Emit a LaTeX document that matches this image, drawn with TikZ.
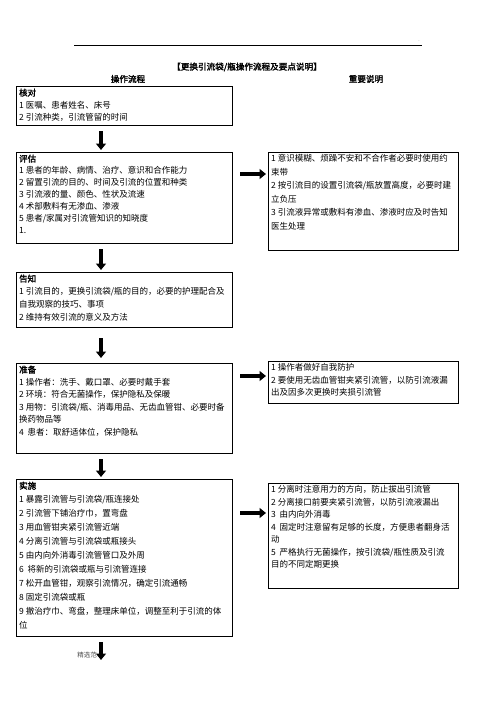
\documentclass[tikz,border=0pt]{standalone}
\usepackage{fontspec}
\setmainfont{Noto Sans CJK SC}[AutoFakeBold=2]
\usetikzlibrary{arrows.meta}

\tikzset{
  kuang/.style={draw, line width=1pt, anchor=north west, inner sep=0pt},
  wenzi/.style={anchor=north west, align=left, inner xsep=3pt, inner ysep=2.5pt,
    font=\fontsize{8.5}{#1}\selectfont},
  wenzi/.default=13,
  jiantou/.style={line width=3.8pt, -{Triangle[width=10pt,length=6.5pt]},
    shorten <=5pt, shorten >=2pt},
}

\begin{document}
\begin{tikzpicture}[x=1pt, y=-1pt]
    \useasboundingbox (0,0) rectangle (496,702);

    % 页眉
    \draw[line width=0.6pt] (74,45) -- (422,45);
    \node[font=\fontsize{5}{5}\selectfont, text=gray] (dian) at (419,41) {.};

    % 标题
    \node[font=\bfseries\fontsize{8.6}{10}\selectfont] (biaoti) at (247,67) {【更换引流袋/瓶操作流程及要点说明】};
    \node[font=\bfseries\fontsize{8.6}{10}\selectfont] (liucheng) at (128,79) {操作流程};
    \node[font=\bfseries\fontsize{8.6}{10}\selectfont] (shuoming) at (366,79) {重要说明};

    % 左列方框
    \node[kuang, minimum width=216, minimum height=39] (hedui) at (16,86) {};
    \node[wenzi=12.5] (hedui-t) at (hedui.north west) {\textbf{核对}\\
        1 医嘱、患者姓名、床号\\
        2 引流种类，引流管留的时间};

    \node[kuang, minimum width=216, minimum height=91] (pinggu) at (16,152) {};
    \node[wenzi=12] (pinggu-t) at (pinggu.north west) {\textbf{评估}\\
        1 患者的年龄、病情、治疗、意识和合作能力\\
        2 留置引流的目的、时间及引流的位置和种类\\
        3 引流液的量、颜色、性状及流速\\
        4 术部敷料有无渗血、渗液\\
        5 患者/家属对引流管知识的知晓度\\
        1.};

    \node[kuang, minimum width=216, minimum height=55] (gaozhi) at (16,272) {};
    \node[wenzi=13] (gaozhi-t) at (gaozhi.north west) {\textbf{告知}\\
        1 引流目的，更换引流袋/瓶的目的，必要的护理配合及\\
        自我观察的技巧、事项\\
        2 维持有效引流的意义及方法};

    \node[kuang, minimum width=216, minimum height=90] (zhunbei) at (16,363) {};
    \node[wenzi=12.5] (zhunbei-t) at (zhunbei.north west) {\textbf{准备}\\
        1 操作者：洗手、戴口罩、必要时戴手套\\
        2 环境：符合无菌操作，保护隐私及保暖\\
        3 用物：引流袋/瓶、消毒用品、无齿血管钳、必要时备\\
        换药物品等\\
        4\ \ 患者：取舒适体位，保护隐私};

    \node[kuang, minimum width=216, minimum height=157] (shishi) at (16,479) {};
    \node[wenzi=14] (shishi-t) at (shishi.north west) {\textbf{实施}\\
        1 暴露引流管与引流袋/瓶连接处\\
        2 引流管下铺治疗巾，置弯盘\\
        3 用血管钳夹紧引流管近端\\
        4 分离引流管与引流袋或瓶接头\\
        5 由内向外消毒引流管管口及外周\\
        6\ \ 将新的引流袋或瓶与引流管连接\\
        7 松开血管钳，观察引流情况，确定引流通畅\\
        8 固定引流袋或瓶\\
        9 撤治疗巾、弯盘，整理床单位，调整至利于引流的体\\
        位};

    % 右列方框
    \node[kuang, minimum width=190, minimum height=98] (shuoming1) at (268,152) {};
    \node[wenzi=13.5] (shuoming1-t) at (shuoming1.north west) {1 意识模糊、烦躁不安和不合作者必要时使用约\\
        束带\\
        2 按引流目的设置引流袋/瓶放置高度，必要时建\\
        立负压\\
        3 引流液异常或敷料有渗血、渗液时应及时告知\\
        医生处理};

    \node[kuang, minimum width=190, minimum height=42] (shuoming2) at (268,361) {};
    \node[wenzi=12.5] (shuoming2-t) at (shuoming2.north west) {1 操作者做好自我防护\\
        2 要使用无齿血管钳夹紧引流管，以防引流液漏\\
        出及因多次更换时夹损引流管};

    \node[kuang, minimum width=190, minimum height=105] (shuoming3) at (268,483) {};
    \node[wenzi=12.5] (shuoming3-t) at (shuoming3.north west) {1 分离时注意用力的方向，防止拔出引流管\\
        2 分离接口前要夹紧引流管，以防引流液漏出\\
        3\ \ 由内向外消毒\\
        4\ \ 固定时注意留有足够的长度，方便患者翻身活\\
        动\\
        5\ \ 严格执行无菌操作，按引流袋/瓶性质及引流\\
        目的不同定期更换};

    % 向下箭头
    \coordinate (zhou) at (101,0);
    \coordinate (jieshu) at (101,660);
    \draw[jiantou] (hedui.south -| zhou) -- (pinggu.north -| zhou);
    \draw[jiantou] (pinggu.south -| zhou) -- (gaozhi.north -| zhou);
    \draw[jiantou, shorten <=10pt, shorten >=5pt] (gaozhi.south -| zhou) -- (zhunbei.north -| zhou);
    \draw[jiantou] (zhunbei.south -| zhou) -- (shishi.north -| zhou);
    \draw[jiantou, shorten >=0pt] (shishi.south -| zhou) -- (jieshu);
    \node[font=\fontsize{6.5}{7}\selectfont, text=black!70] (shuiyin) at (87,655) {精选范};

    % 向右箭头
    \coordinate (r1) at (232,174);
    \coordinate (r2) at (232,376);
    \coordinate (r3) at (232,513);
    \draw[jiantou, shorten <=8pt] (r1) -- (r1 -| shuoming1.west);
    \draw[jiantou, shorten <=8pt] (r2) -- (r2 -| shuoming2.west);
    \draw[jiantou, shorten <=8pt] (r3) -- (r3 -| shuoming3.west);
\end{tikzpicture}
\end{document}
